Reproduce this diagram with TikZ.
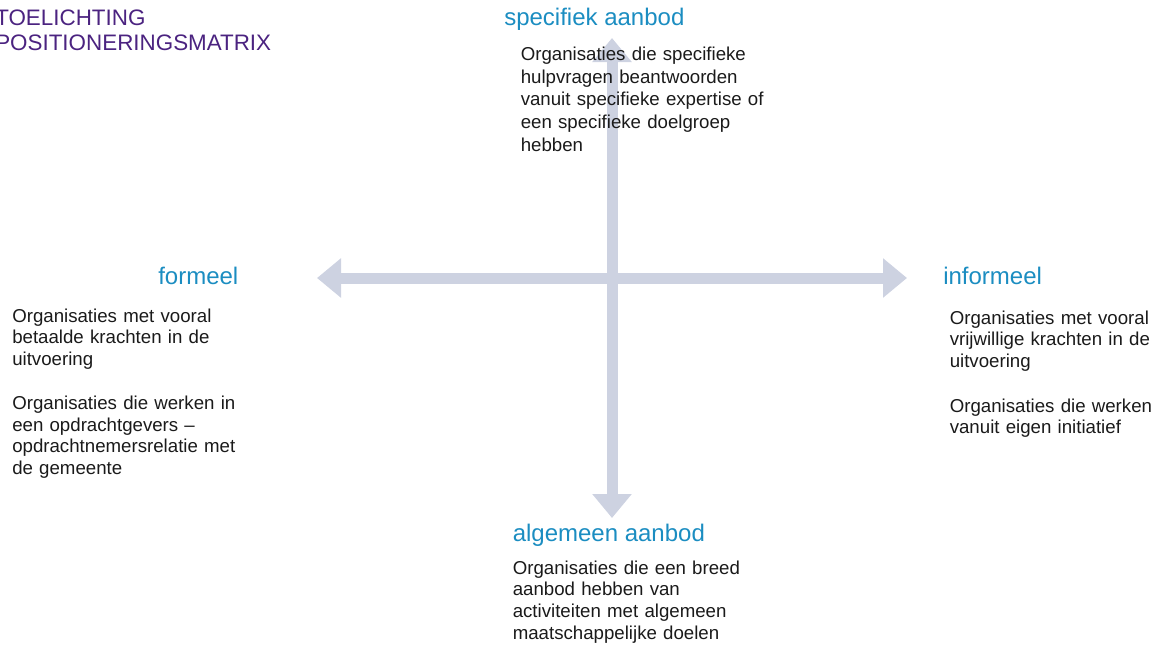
\documentclass[tikz,border=0pt]{standalone}
\usepackage{fontspec}
\setmainfont{Liberation Sans}
\usetikzlibrary{arrows.meta}
\definecolor{axisgrey}{HTML}{CDD2E1}
\definecolor{headblue}{HTML}{1B8DC1}
\definecolor{titlepurple}{HTML}{4B2380}
\definecolor{bodytext}{HTML}{1A1A1A}
\tikzset{
  axis/.style={draw=axisgrey, line width=8.25pt,
    {Triangle[length=18pt,width=28.5pt]}-{Triangle[length=18pt,width=28.5pt]}},
  heading/.style={anchor=base west, inner sep=0pt, text=headblue,
    font=\fontsize{18pt}{21pt}\selectfont},
  body/.style={anchor=base west, inner sep=0pt, text=bodytext, align=left,
    text width=200pt, font=\fontsize{14pt}{#1}\selectfont},
  body/.default=16.35pt,
  titletext/.style={anchor=base west, inner sep=0pt, text=titlepurple, align=left,
    text width=300pt, font=\fontsize{16.8pt}{18.5pt}\selectfont}
}
\begin{document}
\begin{tikzpicture}[x=0.75pt,y=-0.75pt]
\useasboundingbox (0,0) rectangle (1155,646);
\begin{scope}
\clip (0,0) rectangle (1155,646);
% axes
\coordinate (L) at (317,278);
\coordinate (R) at (907,278);
\coordinate (T) at (612,38);
\coordinate (B) at (612,518);
\draw[axis] (L) -- (R);
\draw[axis] (B) -- (T);
% title
\node[titletext] (title) at (-5,26) {TOELICHTING\\POSITIONERINGSMATRIX};
% headings
\node[heading] (hspec) at (504,26) {specifiek aanbod};
\node[heading] (halg) at (512.5,541) {algemeen aanbod};
\node[heading] (hform) at (158,284) {formeel};
\node[heading] (hinf) at (943,284) {informeel};
% body texts
\node[body=17pt] (tspec) at (520.5,60.5) {Organisaties die specifieke\\hulpvragen beantwoorden\\vanuit specifieke expertise of\\een specifieke doelgroep\\hebben};
\node[body] (talg) at (512.5,574) {Organisaties die een breed\\aanbod hebben van\\activiteiten met algemeen\\maatschappelijke doelen};
\node[body] (tform) at (12,322) {Organisaties met vooral\\betaalde krachten in de\\uitvoering\\[16.35pt]Organisaties die werken in\\een opdrachtgevers --\\opdrachtnemersrelatie met\\de gemeente};
\node[body] (tinf) at (949.5,324) {Organisaties met vooral\\vrijwillige krachten in de\\uitvoering\\[17pt]Organisaties die werken\\vanuit eigen initiatief};
\end{scope}
\end{tikzpicture}
\end{document}
